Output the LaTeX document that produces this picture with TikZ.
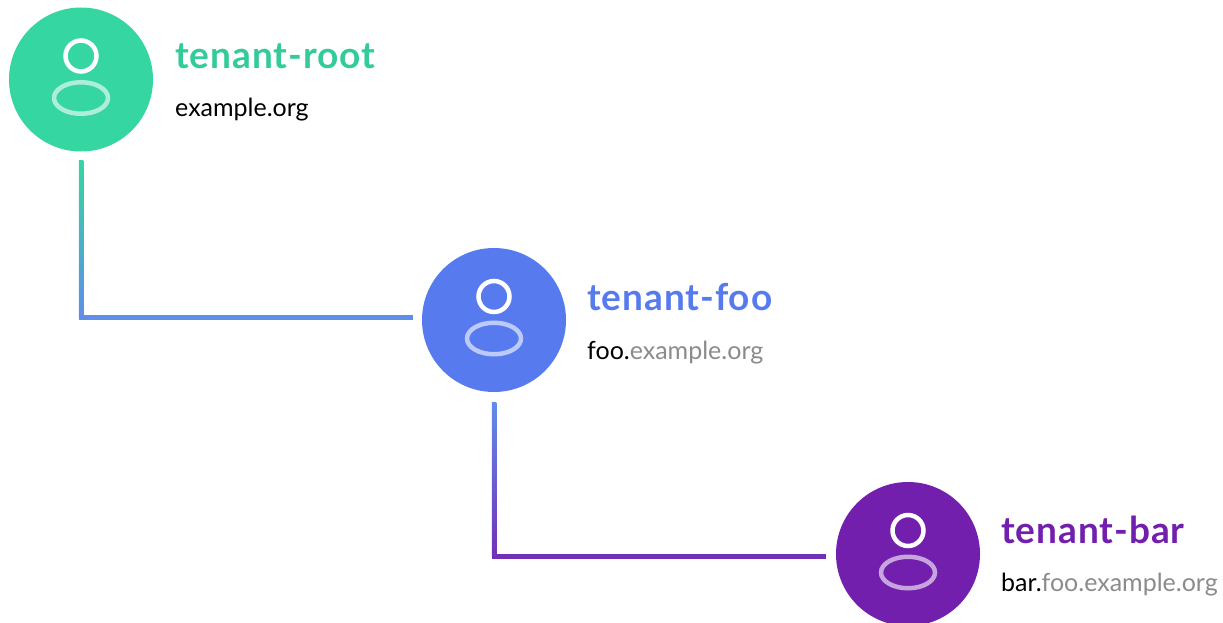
\documentclass[tikz,border=0pt]{standalone}
\usepackage{fontspec}
\setmainfont{Lato}
\usetikzlibrary{positioning, calc, shapes.geometric}

\definecolor{rootgreen}{HTML}{36D6A2}
\definecolor{fooblue}{HTML}{577BEF}
\definecolor{linkblue}{HTML}{5F8EE9}
\definecolor{linkpurple}{HTML}{7230B8}
\definecolor{barpurple}{HTML}{721FAE}
\definecolor{hostgrey}{HTML}{8C8A8A}

\tikzset{
    avatar/.style={circle, minimum size=144pt, inner sep=0pt},
    face/.style={circle, draw=white, line width=4.5pt, minimum size=31pt, inner sep=0pt},
    shoulders/.style={ellipse, draw=white, draw opacity=0.6, line width=4.5pt, minimum width=54pt, minimum height=31.5pt, inner sep=0pt},
    tenant/.style={anchor=base west, inner sep=0pt, font=\fontsize{37}{37}\selectfont\bfseries\addfontfeatures{LetterSpace=2.6}},
    host/.style={anchor=base west, inner sep=0pt, font=\fontsize{25}{25}\selectfont},
    link/.style={line width=4.5pt}
}

\begin{document}
\begin{tikzpicture}[x=1pt, y=1pt, on grid]
    \useasboundingbox (0,0) rectangle (1223,-623);

    \node[avatar, fill=rootgreen] (root) at (81,-79.5) {};
    \node[avatar, fill=fooblue] (foo) [below right=240.5pt and 413pt of root] {};
    \node[avatar, fill=barpurple] (bar) [below right=234pt and 414pt of foo] {};

    \foreach \who in {root, foo, bar} {
        \node[face] (\who face) [above=23.5pt of \who] {};
        \node[shoulders] (\who body) [below=18.5pt of \who] {};
    }

    \node[tenant, text=rootgreen!95!black] (roottitle) at ($(root)+(94,11)$) {tenant-root};
    \node[host] (roothost) at ($(root)+(94,-37.5)$) {example.org};
    \node[tenant, text=fooblue] (footitle) at ($(foo)+(93,9.5)$) {tenant-foo};
    \node[host] (foohost) at ($(foo)+(93,-39.5)$) {foo.\textcolor{hostgrey}{example.org}};
    \node[tenant, text=barpurple] (bartitle) at ($(bar)+(93,11)$) {tenant-bar};
    \node[host] (barhost) at ($(bar)+(93,-37)$) {bar.\textcolor{hostgrey}{foo.example.org}};

    % free ends stop short of the circles
    \coordinate (rootout) at ($(root.south)+(0,-8.5)$);
    \coordinate (fooin) at ($(foo)+(-81,2.5)$);
    \coordinate (rootbend) at (rootout |- fooin);
    \coordinate (fooout) at ($(foo.south)+(0,-10)$);
    \coordinate (barin) at ($(bar)+(-82,-2.5)$);
    \coordinate (foobend) at (fooout |- barin);

    \draw[link, linkblue] (rootout) |- (fooin);
    \shade[top color=rootgreen, bottom color=linkblue] ($(rootout)+(-2.25,0)$) rectangle ($(rootbend)+(2.25,0)$);
    \draw[link, linkpurple] (fooout) |- (barin);
    \shade[top color=linkblue, bottom color=linkpurple] ($(fooout)+(-2.25,0)$) rectangle ($(foobend)+(2.25,0)$);
\end{tikzpicture}
\end{document}
